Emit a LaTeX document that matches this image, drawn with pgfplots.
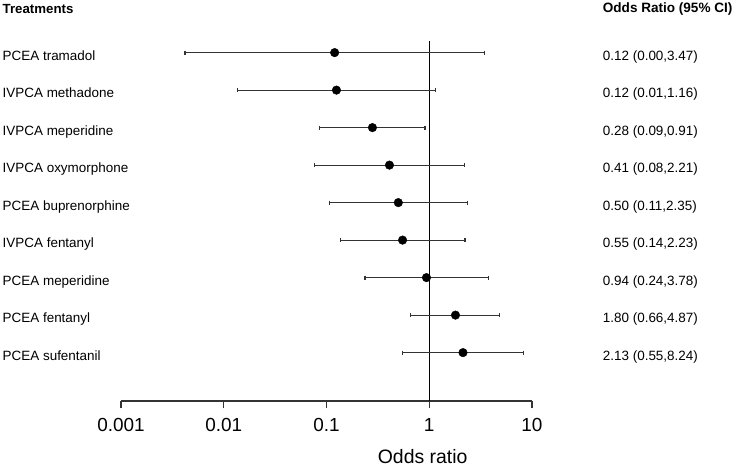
\documentclass[border=0pt]{standalone}
\usepackage{pgfplots}
\pgfplotsset{compat=1.18}
\usepackage{fontspec}
\setmainfont{Liberation Sans}
\definecolor{ln}{HTML}{333333}
\begin{document}
\begin{tikzpicture}[x=1bp,y=1bp]
\path[use as bounding box] (0,0) rectangle (735,467);
\begin{axis}[
  at={(121bp,66bp)}, anchor=south west,
  scale only axis, width=411bp, height=360bp,
  xmode=log, xmin=0.001, xmax=10, ymin=-0.29, ymax=9.31,
  axis y line=none, axis x line=bottom,
  x axis line style={-, draw=ln, line width=1.1bp},
  xtick={0.001,0.01,0.1,1,10},
  xticklabels={0.001,0.01,0.1,1,10},
  minor xtick={}, xminorticks=false,
  tick align=outside, major tick length=7.5bp,
  xtick style={draw=ln, line width=1.1bp},
  /pgf/number format/assume math mode=true,
  xticklabel style={font=\fontsize{19}{19}\selectfont, anchor=base, inner sep=0pt, yshift=-23.4bp},
  xticklabel shift=0pt,
  every axis x label/.style={at={(axis description cs:0.734,-0.155)}, anchor=center, font=\fontsize{19.5}{19.5}\selectfont},
  xlabel={Odds ratio},
  clip=false,
]
\addplot[black, line width=1.1bp] coordinates {(1,-0.29) (1,9.31)};
% confidence intervals
\pgfplotsset{ci/.style={ln, line width=1.1bp, mark=|, mark size=2bp, mark options={ln, line width=1.1bp}}}
\addplot[ci] coordinates {(0.0042,9) (3.47,9)};
\addplot[ci] coordinates {(0.0135,8) (1.16,8)};
\addplot[ci] coordinates {(0.086,7) (0.91,7)};
\addplot[ci] coordinates {(0.077,6) (2.21,6)};
\addplot[ci] coordinates {(0.107,5) (2.35,5)};
\addplot[ci] coordinates {(0.137,4) (2.23,4)};
\addplot[ci] coordinates {(0.237,3) (3.78,3)};
\addplot[ci] coordinates {(0.66,2) (4.87,2)};
\addplot[ci] coordinates {(0.55,1) (8.24,1)};
% point estimates
\addplot[only marks, mark=*, mark size=4.3bp, black] coordinates {
 (0.12,9) (0.125,8) (0.28,7) (0.41,6) (0.50,5) (0.55,4) (0.94,3) (1.80,2) (2.13,1)};
\end{axis}
% headers
\node[anchor=base west, inner sep=0pt, font=\fontsize{13.3}{13.3}\selectfont\bfseries] at (2.5,467-13.3) {Treatments};
\node[anchor=base west, inner sep=0pt, font=\fontsize{13.6}{13.6}\selectfont\bfseries] at (602.7,467-12.8) {Odds Ratio (95\% CI)};
% rows
\foreach \lab/\txt [count=\k] in {
  PCEA tramadol/{0.12 (0.00,3.47)},
  IVPCA methadone/{0.12 (0.01,1.16)},
  IVPCA meperidine/{0.28 (0.09,0.91)},
  IVPCA oxymorphone/{0.41 (0.08,2.21)},
  PCEA buprenorphine/{0.50 (0.11,2.35)},
  IVPCA fentanyl/{0.55 (0.14,2.23)},
  PCEA meperidine/{0.94 (0.24,3.78)},
  PCEA fentanyl/{1.80 (0.66,4.87)},
  PCEA sufentanil/{2.13 (0.55,8.24)}} {
  \pgfmathsetmacro{\yy}{467-(52.7+37.5*(\k-1))-7.8}
  \node[anchor=base west, inner sep=0pt, font=\fontsize{13.5}{13.5}\selectfont] at (2.5,\yy) {\lab};
  \node[anchor=base west, inner sep=0pt, font=\fontsize{13.5}{13.5}\selectfont] at (602.7,\yy) {\txt};
}
\end{tikzpicture}
\end{document}
